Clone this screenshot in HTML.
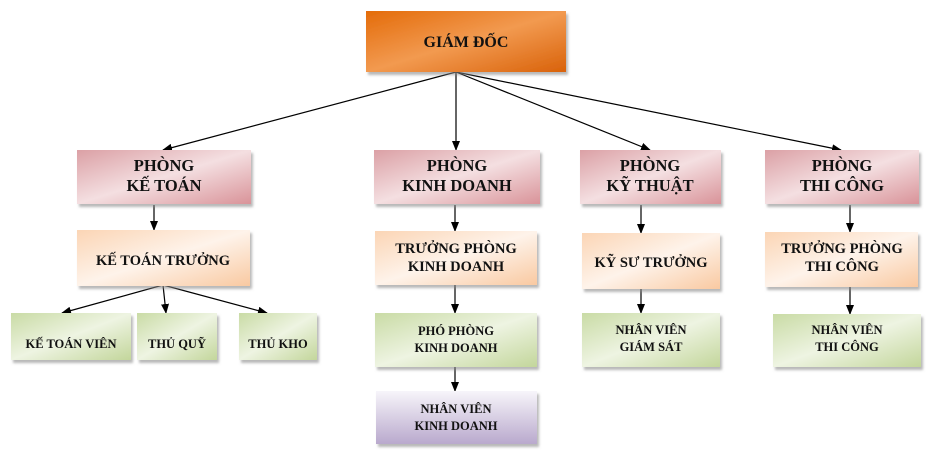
<!DOCTYPE html>
<html><head><meta charset="utf-8"><style>
html,body{margin:0;padding:0;background:#fff;}
svg text{font-family:"Liberation Serif","DejaVu Serif",serif;font-weight:bold;fill:#111;text-anchor:middle;}
</style></head><body>
<svg width="937" height="453" viewBox="0 0 937 453" xmlns="http://www.w3.org/2000/svg">
<defs>
<linearGradient id="org" x1="0" y1="0" x2="1" y2="1"><stop offset="0" stop-color="#e46c0a"/><stop offset="0.5" stop-color="#f29a50"/><stop offset="1" stop-color="#d9620a"/></linearGradient>
<linearGradient id="pink" x1="0" y1="0" x2="1" y2="1"><stop offset="0" stop-color="#dba0a5"/><stop offset="0.5" stop-color="#f4dfe1"/><stop offset="1" stop-color="#d99399"/></linearGradient>
<linearGradient id="peach" x1="0" y1="0" x2="1" y2="1"><stop offset="0" stop-color="#fbd5b5"/><stop offset="0.5" stop-color="#fef3ea"/><stop offset="1" stop-color="#f9c9a1"/></linearGradient>
<linearGradient id="green" x1="0" y1="0" x2="1" y2="1"><stop offset="0" stop-color="#c9dba5"/><stop offset="0.5" stop-color="#eef4e2"/><stop offset="1" stop-color="#c3d69b"/></linearGradient>
<linearGradient id="purple" x1="0" y1="0" x2="0" y2="1"><stop offset="0" stop-color="#f7f5fa"/><stop offset="1" stop-color="#b9a9cd"/></linearGradient>
<filter id="sh" x="-10%" y="-10%" width="130%" height="140%"><feDropShadow dx="2" dy="3" stdDeviation="1.2" flood-color="#888" flood-opacity="0.6"/></filter>
<marker id="ar" markerWidth="10" markerHeight="8" refX="9" refY="4" orient="auto" markerUnits="userSpaceOnUse"><path d="M0,0 L10,4 L0,8 z" fill="#000"/></marker>
</defs>
<g stroke="#000" stroke-width="1.2" marker-end="url(#ar)">
<line x1="456" y1="72" x2="163" y2="150"/>
<line x1="456" y1="72" x2="456" y2="150"/>
<line x1="456" y1="72" x2="650" y2="150"/>
<line x1="456" y1="72" x2="841" y2="150"/>
<line x1="154" y1="205" x2="154" y2="230"/>
<line x1="455" y1="205" x2="455" y2="231"/>
<line x1="641" y1="205" x2="641" y2="233"/>
<line x1="850" y1="205" x2="850" y2="232"/>
<line x1="163" y1="285" x2="62" y2="313"/>
<line x1="163" y1="285" x2="166" y2="313"/>
<line x1="163" y1="285" x2="267" y2="313"/>
<line x1="455" y1="285" x2="455" y2="313"/>
<line x1="641" y1="289" x2="641" y2="313"/>
<line x1="850" y1="287" x2="850" y2="314"/>
<line x1="455" y1="367" x2="455" y2="391"/>
</g>
<g filter="url(#sh)">
<rect x="366" y="11" width="200" height="61" fill="url(#org)"/>
<rect x="77" y="150" width="174" height="54" fill="url(#pink)"/>
<rect x="374" y="150" width="166" height="54" fill="url(#pink)"/>
<rect x="580" y="150" width="141" height="54" fill="url(#pink)"/>
<rect x="765" y="150" width="154" height="54" fill="url(#pink)"/>
<rect x="77" y="230" width="173" height="56" fill="url(#peach)"/>
<rect x="375" y="231" width="162" height="54" fill="url(#peach)"/>
<rect x="582" y="233" width="138" height="56" fill="url(#peach)"/>
<rect x="765" y="232" width="153" height="55" fill="url(#peach)"/>
<rect x="11" y="313" width="120" height="47" fill="url(#green)"/>
<rect x="137" y="313" width="80" height="47" fill="url(#green)"/>
<rect x="239" y="313" width="78" height="47" fill="url(#green)"/>
<rect x="375" y="313" width="162" height="54" fill="url(#green)"/>
<rect x="582" y="313" width="138" height="54" fill="url(#green)"/>
<rect x="773" y="314" width="148" height="53" fill="url(#green)"/>
<rect x="376" y="391" width="161" height="53" fill="url(#purple)"/>
</g>
<text x="466" y="47" font-size="16">GIÁM ĐỐC</text>
<g font-size="16.5">
<text x="164" y="171">PHÒNG</text><text x="164" y="191">KẾ TOÁN</text>
<text x="457" y="171">PHÒNG</text><text x="457" y="191">KINH DOANH</text>
<text x="650" y="171">PHÒNG</text><text x="650" y="191">KỸ THUẬT</text>
<text x="842" y="171">PHÒNG</text><text x="842" y="191">THI CÔNG</text>
</g>
<g font-size="14.5">
<text x="163" y="265">KẾ TOÁN TRƯỞNG</text>
<text x="456" y="253">TRƯỞNG PHÒNG</text><text x="456" y="271">KINH DOANH</text>
<text x="651" y="267">KỸ SƯ TRƯỞNG</text>
<text x="842" y="253">TRƯỞNG PHÒNG</text><text x="842" y="271">THI CÔNG</text>
</g>
<g font-size="12.5">
<text x="71" y="348">KẾ TOÁN VIÊN</text>
<text x="177" y="348">THỦ QUỸ</text>
<text x="278" y="348">THỦ KHO</text>
<text x="456" y="335">PHÓ PHÒNG</text><text x="456" y="352">KINH DOANH</text>
<text x="651" y="334">NHÂN VIÊN</text><text x="651" y="351">GIÁM SÁT</text>
<text x="847" y="334">NHÂN VIÊN</text><text x="847" y="351">THI CÔNG</text>
<text x="456" y="413">NHÂN VIÊN</text><text x="456" y="430">KINH DOANH</text>
</g>
</svg>
</body></html>
